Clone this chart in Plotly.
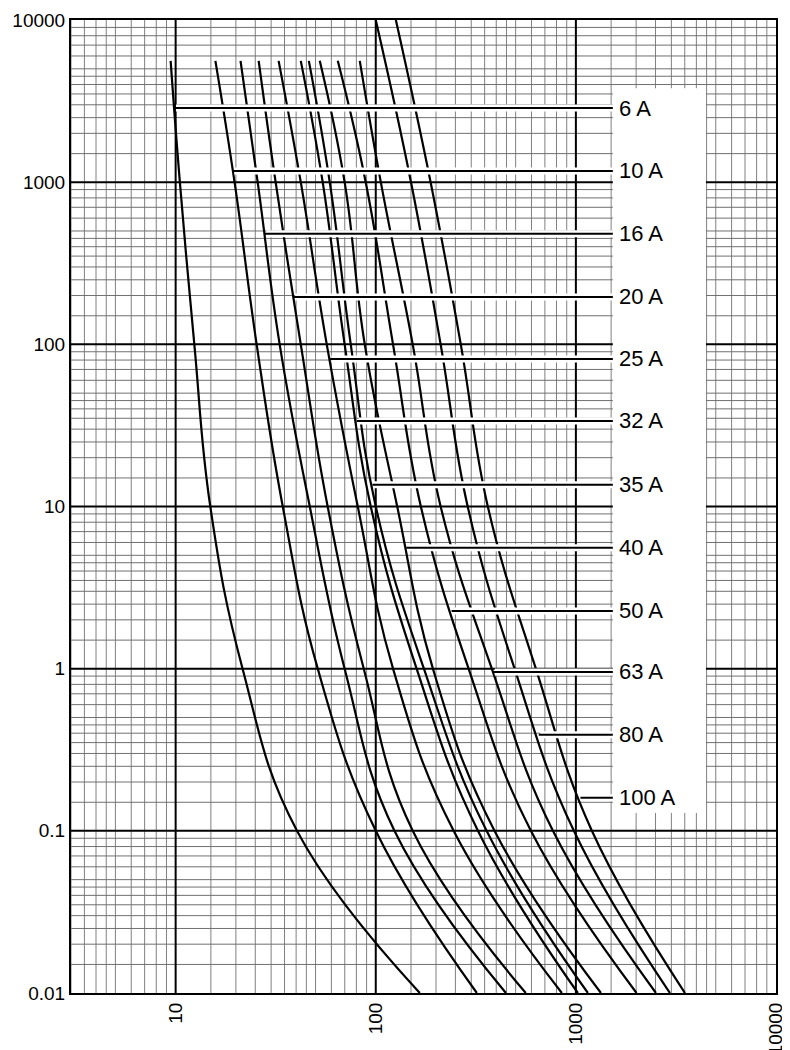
import numpy as np
import plotly.graph_objects as go

ratings = ["6 A","10 A","16 A","20 A","25 A","32 A","35 A","40 A","50 A","63 A","80 A","100 A"]
t_std = [5600, 1000, 100, 10, 1, 0.1, 0.01]
t_big = [10000, 1000, 100, 10, 1, 0.1, 0.01]
cur_6 = [9.44, 10.5, 12.4, 14.9, 21.6, 40.4, 166]
cur_10 = [15.8, 19.7, 25.4, 34.3, 51.3, 100, 320]
cur_16 = [21.1, 25.7, 33.1, 46.8, 69.9, 124, 447]
cur_20 = [26.0, 31.6, 42.2, 57.5, 87.1, 153, 562]
cur_25 = [32.7, 42.2, 56.9, 81.3, 122, 245, 851]
cur_32 = [42.2, 54.3, 69.9, 94.4, 160, 324, 1023]
cur_35 = [46.3, 58.9, 75.0, 100, 174, 358, 1148]
cur_40 = [52.5, 69.9, 88.1, 128, 193, 392, 1334]
cur_50 = [64.6, 89.1, 122, 168, 291, 596, 2009]
cur_63 = [83.2, 106, 153, 211, 380, 768, 2512]
cur_80 = [100, 150, 211, 288, 494, 977, 2951]
cur_100 = [126, 188, 266, 363, 631, 1202, 3508]
curves = [cur_6, cur_10, cur_16, cur_20, cur_25, cur_32, cur_35, cur_40, cur_50, cur_63, cur_80, cur_100]
times = [t_std]*10 + [t_big]*2
label_t = [2864, 1172, 480, 196, 81.3, 33.7, 13.6, 5.56, 2.27, 0.955, 0.391, 0.160]
label_line_end = 1530
label_text_x = 1600

fig = go.Figure()

shapes = []
minor = [1.5, 2, 2.5, 3, 3.5, 4, 4.5, 5, 6, 7, 8, 9]
for d in [1, 10, 100, 1000]:
    for m in minor:
        v = d*m
        if 3 <= v <= 10000:
            shapes.append(dict(type="line", xref="x", yref="y domain", x0=v, x1=v, y0=0, y1=1,
                               line=dict(color="#808080", width=1), layer="below"))
for d in [0.01, 0.1, 1, 10, 100, 1000]:
    for m in minor:
        v = d*m
        shapes.append(dict(type="line", xref="x domain", yref="y", x0=0, x1=1, y0=v, y1=v,
                           line=dict(color="#707070", width=1), layer="below"))
for v in [10, 100, 1000]:
    shapes.append(dict(type="line", xref="x", yref="y domain", x0=v, x1=v, y0=0, y1=1,
                       line=dict(color="black", width=2), layer="below"))
for v in [0.1, 1, 10, 100, 1000]:
    shapes.append(dict(type="line", xref="x domain", yref="y", x0=0, x1=1, y0=v, y1=v,
                       line=dict(color="black", width=2), layer="below"))
shapes.append(dict(type="rect", xref="x", yref="y", x0=1530, x1=4467, y0=0.129, y1=3800,
                   fillcolor="white", line=dict(width=0), layer="below"))
fig.update_layout(shapes=shapes)

for c, t in zip(curves, times):
    fig.add_trace(go.Scatter(x=c, y=t, mode="lines", line=dict(color="black", width=2.2, shape="spline", smoothing=1.2),
                             hoverinfo="skip", showlegend=False))

for name, c, t, lt in zip(ratings, curves, times, label_t):
    lx = 10**np.interp(np.log10(lt), np.log10(t[::-1]), np.log10(c[::-1]))
    fig.add_trace(go.Scatter(x=[lx*1.02, label_line_end], y=[lt, lt], mode="lines",
                             line=dict(color="white", width=7), hoverinfo="skip", showlegend=False))
    fig.add_trace(go.Scatter(x=[lx, label_line_end], y=[lt, lt], mode="lines",
                             line=dict(color="black", width=2), hoverinfo="skip", showlegend=False))
    fig.add_annotation(x=np.log10(label_text_x), y=np.log10(lt), text=name, showarrow=False,
                       xanchor="left", font=dict(size=22, color="black"))

fig.update_xaxes(type="log", range=[np.log10(3), 4], tickvals=[10, 100, 1000, 10000],
                 ticktext=["10", "100", "1000", "10000"], tickangle=-90, showgrid=False,
                 showline=True, linecolor="black", linewidth=2, mirror=True, ticks="",
                 tickfont=dict(size=19, color="black"), zeroline=False, automargin=False)
fig.update_yaxes(type="log", range=[-2, 4], tickvals=[0.01, 0.1, 1, 10, 100, 1000, 10000],
                 ticktext=["0.01", "0.1", "1", "10", "100", "1000", "10000"], showgrid=False,
                 showline=True, linecolor="black", linewidth=2, mirror=True, ticks="",
                 tickfont=dict(size=19, color="black"), zeroline=False, automargin=False)
fig.update_layout(width=790, height=1050, margin=dict(l=63, r=22, t=12, b=65),
                  plot_bgcolor="white", paper_bgcolor="white",
                  font=dict(family="Liberation Sans, Arial, sans-serif"))
fig.write_html("out.html")
